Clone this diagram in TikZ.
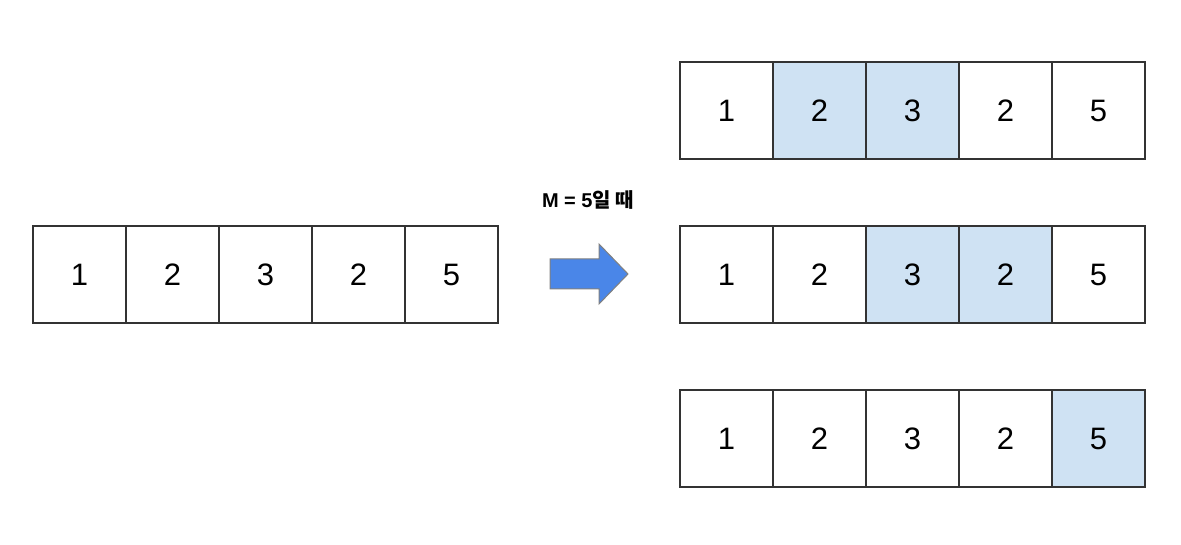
\documentclass[tikz,border=0pt]{standalone}
\usepackage{fontspec}
\setmainfont{Liberation Sans}
\newfontfamily\korfont{Noto Sans CJK KR}
\usetikzlibrary{matrix}
\definecolor{cellblue}{HTML}{CFE2F3}
\definecolor{arrowblue}{HTML}{4A86E8}
\definecolor{linegray}{HTML}{333333}
\newcommand*\cellwd{93pt}
\newcommand*\cellht{97pt}
\newcommand*\cellline{1.3pt}
\tikzset{
    cell/.style   = {draw=linegray,line width=\cellline,fill=white,
                    minimum width=\cellwd, minimum height=\cellht,
                    inner sep=0pt, outer sep=0pt,
                    text height=22pt, text depth=0pt,
                    font=\fontsize{31}{36}\selectfont},
    bluecell/.style = {cell,fill=cellblue},
    rowmatrix/.style = {
        matrix of nodes,
        nodes   = {cell},
        column sep=-\cellline,                         % share the borders
        nodes in empty cells,
    },
  }
\begin{document}
\begin{tikzpicture}[x=1pt,y=-1pt]
    \useasboundingbox (0,0) rectangle (1181,545);

    % the input row
    \matrix (A) [rowmatrix] at (265.5,274.5) {
        1 & 2 & 3 & 2 & 5 \\
    };

    % the three windows with sum M
    \matrix (B) [rowmatrix] at (912.5,110.5) {
        1 & |[bluecell]| 2 & |[bluecell]| 3 & 2 & 5 \\
    };
    \matrix (C) [rowmatrix] at (912.5,274.5) {
        1 & 2 & |[bluecell]| 3 & |[bluecell]| 2 & 5 \\
    };
    \matrix (D) [rowmatrix] at (912.5,438.5) {
        1 & 2 & 3 & 2 & |[bluecell]| 5 \\
    };

    % label and block arrow
    \node (label) at (588,200) {\fontsize{20}{24}\selectfont\bfseries M = 5\korfont 일 때};
    \draw[draw=gray,line width=1pt,fill=arrowblue,line join=miter]
        (550,259) -- (599,259) -- (599,244) -- (628,274)
        -- (599,304) -- (599,289) -- (550,289) -- cycle;
\end{tikzpicture}
\end{document}
